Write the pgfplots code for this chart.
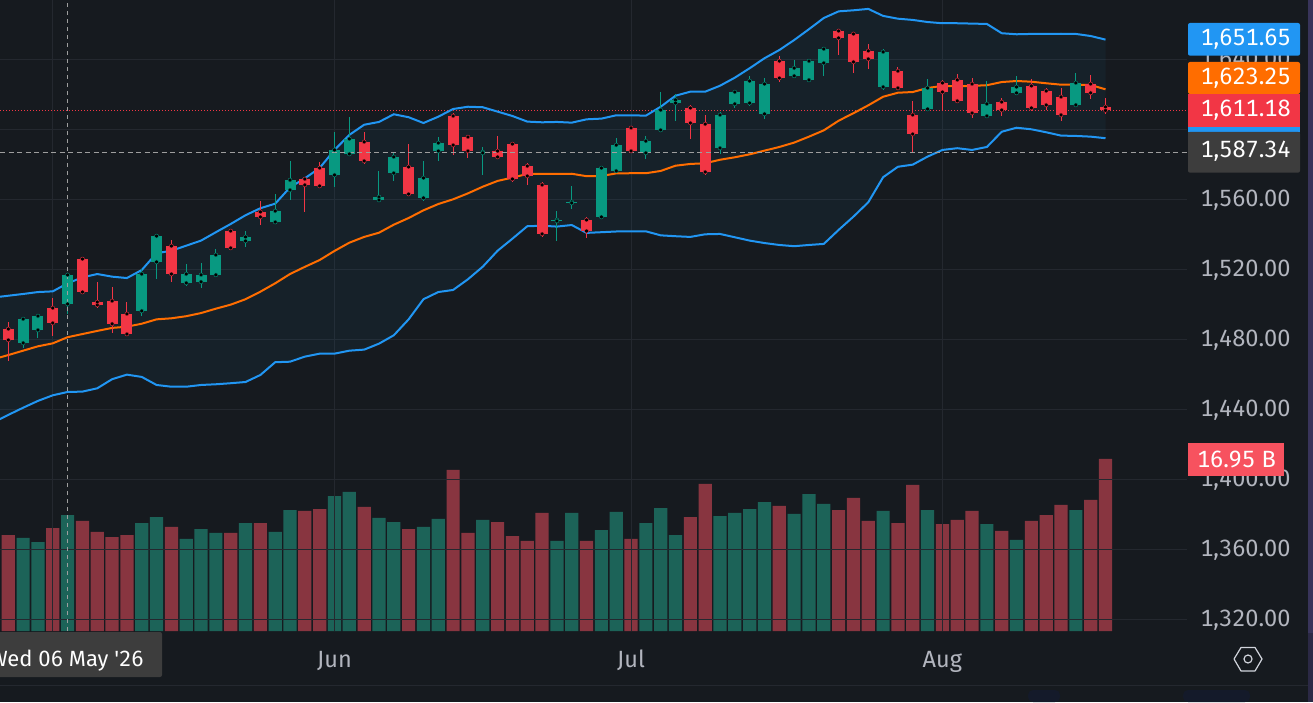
\documentclass[border=0pt]{standalone}
\usepackage{fontspec}
\setmainfont[Numbers=Monospaced]{Fira Sans}
\newfontfamily\plainfont[Numbers=Monospaced]{Fira Sans}
\usepackage{pgfplots}
\usepackage{pgfplotstable}
\pgfplotsset{compat=1.18}
\definecolor{bg}{HTML}{161A1F}
\definecolor{gridc}{HTML}{24282F}
\definecolor{upc}{HTML}{089981}
\definecolor{dnc}{HTML}{F23645}
\definecolor{vup}{HTML}{1C6358}
\definecolor{vdn}{HTML}{883540}
\definecolor{bb}{HTML}{2196F3}
\definecolor{bandc}{HTML}{1686B9}
\definecolor{ma}{HTML}{FF6D00}
\definecolor{lab}{HTML}{B2B5BE}
\definecolor{tagg}{HTML}{3D3D3D}
\definecolor{voltag}{HTML}{F7525F}
\definecolor{stripa}{HTML}{38345A}
\definecolor{stripb}{HTML}{2B2945}
\definecolor{blob}{HTML}{141A2A}
\definecolor{icon}{HTML}{D1D4DC}
\pgfplotstableread{
i o h l c
0 1486.3 1490.3 1468.0 1480.0
3 1498.3 1504.0 1482.3 1489.7
5 1526.3 1527.4 1507.4 1507.4
6 1501.7 1513.2 1498.3 1500.0
7 1502.3 1510.3 1484.0 1489.2
8 1494.9 1501.7 1482.3 1483.4
11 1533.7 1537.2 1513.2 1517.7
15 1542.3 1542.3 1531.4 1532.6
17 1553.2 1559.4 1545.7 1550.3
20 1572.0 1572.0 1553.2 1568.6
21 1578.3 1581.7 1566.9 1568.0
24 1593.2 1598.9 1580.6 1582.3
27 1578.9 1592.0 1563.4 1563.4
30 1608.0 1609.7 1585.7 1591.4
31 1596.0 1596.6 1584.0 1588.0
33 1588.0 1596.6 1583.4 1584.6
34 1592.0 1592.6 1570.3 1572.0
35 1579.4 1581.2 1568.6 1573.7
36 1568.6 1570.3 1538.9 1540.6
39 1548.6 1550.3 1538.3 1542.3
42 1601.2 1601.2 1588.0 1588.0
46 1612.6 1614.3 1594.9 1604.0
47 1603.4 1608.6 1574.3 1576.0
52 1639.4 1642.3 1627.4 1629.7
56 1656.6 1657.7 1642.9 1652.6
57 1654.9 1656.0 1632.6 1638.9
58 1645.2 1649.2 1634.9 1640.6
60 1633.7 1636.0 1622.9 1624.0
61 1608.6 1616.6 1587.4 1597.7
63 1626.9 1628.6 1610.9 1621.7
64 1628.6 1632.0 1616.6 1616.6
65 1626.3 1629.7 1606.9 1609.7
67 1616.0 1618.3 1608.0 1611.4
69 1625.2 1629.2 1610.9 1612.6
70 1622.3 1624.0 1611.4 1614.3
71 1618.9 1624.0 1605.2 1608.6
73 1626.3 1631.4 1617.7 1621.2
74 1613.2 1618.3 1609.2 1611.18
}\candown
\pgfplotstableread{
i o h l c
1 1478.3 1493.2 1475.4 1492.0
2 1485.7 1493.7 1481.2 1493.7
4 1500.6 1517.2 1494.9 1517.2
9 1496.6 1520.6 1493.7 1517.7
10 1524.6 1540.6 1514.9 1539.4
12 1512.6 1523.4 1510.9 1517.7
13 1513.2 1524.0 1509.7 1517.2
14 1517.2 1532.0 1517.2 1528.6
16 1536.6 1542.3 1533.2 1538.9
18 1547.4 1563.4 1547.4 1553.7
19 1565.7 1582.3 1560.0 1571.4
22 1574.3 1598.9 1567.4 1588.6
23 1586.3 1607.4 1586.3 1594.9
25 1560.0 1576.6 1559.4 1561.7
26 1575.4 1586.9 1570.9 1584.6
28 1561.2 1582.3 1559.4 1572.6
29 1588.0 1596.0 1582.3 1592.6
32 1586.9 1590.3 1574.3 1587.4
37 1548.0 1553.7 1536.6 1548.6
38 1558.3 1568.0 1554.9 1558.9
40 1550.3 1578.3 1550.3 1578.3
41 1576.6 1595.4 1575.4 1591.4
43 1586.9 1596.6 1583.4 1593.7
44 1600.0 1621.7 1598.9 1611.4
45 1615.4 1620.6 1605.2 1617.2
48 1589.7 1610.3 1586.3 1608.6
49 1614.9 1621.7 1612.6 1621.7
50 1615.4 1630.9 1613.7 1628.0
51 1609.2 1629.7 1606.3 1626.3
53 1630.9 1640.0 1629.7 1635.4
54 1628.6 1640.0 1628.6 1639.4
55 1638.3 1646.3 1630.9 1646.3
59 1624.6 1646.3 1622.9 1644.6
62 1612.0 1629.2 1610.9 1624.0
66 1608.0 1628.0 1608.0 1614.9
68 1621.2 1630.9 1621.2 1624.6
72 1614.3 1632.6 1613.7 1626.9
}\canup
\pgfplotstableread{
i u m l
-1 1504.3 1469.0 1433.0
0 1505.3 1471.4 1437.2
1 1506.3 1473.9 1441.3
2 1507.4 1476.4 1445.2
3 1507.8 1478.1 1448.4
4 1512.4 1481.6 1450.3
5 1515.8 1483.4 1450.5
6 1517.7 1485.2 1452.4
7 1516.2 1486.9 1457.6
8 1515.4 1487.6 1460.2
9 1520.0 1489.3 1458.9
10 1529.6 1491.8 1454.3
11 1531.0 1492.4 1453.3
12 1533.9 1493.6 1453.3
13 1536.8 1495.4 1454.3
14 1541.6 1497.9 1454.7
15 1546.3 1500.2 1455.3
16 1551.3 1503.3 1456.0
17 1555.3 1507.6 1460.0
18 1557.9 1512.4 1467.3
19 1567.2 1517.7 1467.6
20 1572.4 1521.8 1470.5
21 1578.3 1525.7 1472.2
22 1588.6 1530.9 1472.2
23 1597.2 1535.6 1473.9
24 1603.0 1538.9 1474.5
25 1604.6 1541.3 1477.9
26 1609.0 1545.9 1482.7
27 1607.3 1549.7 1491.8
28 1604.0 1554.1 1503.3
29 1607.6 1557.7 1507.4
30 1612.0 1560.4 1508.6
31 1613.3 1563.8 1514.7
32 1613.0 1567.6 1521.9
33 1610.5 1570.9 1531.0
34 1608.0 1572.8 1537.9
35 1604.8 1574.9 1545.0
36 1604.4 1574.9 1545.3
37 1604.6 1574.9 1544.8
38 1604.2 1575.0 1545.7
39 1606.1 1573.6 1541.2
40 1606.5 1573.7 1541.6
41 1608.4 1575.2 1542.0
42 1608.4 1575.3 1542.1
43 1608.2 1575.3 1542.1
44 1613.3 1576.6 1539.8
45 1619.6 1579.6 1539.3
46 1621.9 1580.6 1538.9
47 1621.9 1581.0 1540.4
48 1625.3 1583.0 1540.6
49 1629.9 1584.4 1538.7
50 1635.3 1586.1 1536.8
51 1641.0 1588.2 1535.4
52 1645.7 1590.3 1534.3
53 1651.4 1592.8 1533.6
54 1657.6 1596.2 1534.3
55 1664.0 1599.8 1534.9
56 1667.8 1605.3 1542.9
57 1668.4 1609.6 1550.5
58 1669.2 1614.1 1558.7
59 1665.2 1619.0 1573.0
60 1663.6 1621.3 1579.0
61 1662.9 1621.7 1580.2
62 1661.7 1624.0 1584.8
63 1661.0 1625.2 1588.6
64 1661.0 1625.0 1589.6
65 1660.8 1625.2 1588.6
66 1660.6 1625.6 1590.3
67 1655.3 1627.4 1599.0
68 1654.7 1628.0 1601.3
69 1654.9 1627.6 1600.4
70 1654.9 1626.7 1598.7
71 1655.0 1625.9 1596.8
72 1654.9 1625.9 1596.6
73 1653.7 1625.7 1596.2
74 1651.65 1623.25 1595.3
}\bands
\pgfplotstableread{
i y
-1 1504.3
0 1505.3
1 1506.3
2 1507.4
3 1507.8
4 1512.4
5 1515.8
6 1517.7
7 1516.2
8 1515.4
9 1520.0
10 1529.6
11 1531.0
12 1533.9
13 1536.8
14 1541.6
15 1546.3
16 1551.3
17 1555.3
18 1557.9
19 1567.2
20 1572.4
21 1578.3
22 1588.6
23 1597.2
24 1603.0
25 1604.6
26 1609.0
27 1607.3
28 1604.0
29 1607.6
30 1612.0
31 1613.3
32 1613.0
33 1610.5
34 1608.0
35 1604.8
36 1604.4
37 1604.6
38 1604.2
39 1606.1
40 1606.5
41 1608.4
42 1608.4
43 1608.2
44 1613.3
45 1619.6
46 1621.9
47 1621.9
48 1625.3
49 1629.9
50 1635.3
51 1641.0
52 1645.7
53 1651.4
54 1657.6
55 1664.0
56 1667.8
57 1668.4
58 1669.2
59 1665.2
60 1663.6
61 1662.9
62 1661.7
63 1661.0
64 1661.0
65 1660.8
66 1660.6
67 1655.3
68 1654.7
69 1654.9
70 1654.9
71 1655.0
72 1654.9
73 1653.7
74 1651.65
74 1595.3
73 1596.2
72 1596.6
71 1596.8
70 1598.7
69 1600.4
68 1601.3
67 1599.0
66 1590.3
65 1588.6
64 1589.6
63 1588.6
62 1584.8
61 1580.2
60 1579.0
59 1573.0
58 1558.7
57 1550.5
56 1542.9
55 1534.9
54 1534.3
53 1533.6
52 1534.3
51 1535.4
50 1536.8
49 1538.7
48 1540.6
47 1540.4
46 1538.9
45 1539.3
44 1539.8
43 1542.1
42 1542.1
41 1542.0
40 1541.6
39 1541.2
38 1545.7
37 1544.8
36 1545.3
35 1545.0
34 1537.9
33 1531.0
32 1521.9
31 1514.7
30 1508.6
29 1507.4
28 1503.3
27 1491.8
26 1482.7
25 1477.9
24 1474.5
23 1473.9
22 1472.2
21 1472.2
20 1470.5
19 1467.6
18 1467.3
17 1460.0
16 1456.0
15 1455.3
14 1454.7
13 1454.3
12 1453.3
11 1453.3
10 1454.3
9 1458.9
8 1460.2
7 1457.6
6 1452.4
5 1450.5
4 1450.3
3 1448.4
2 1445.2
1 1441.3
0 1437.2
-1 1433.0
}\bandarea
\pgfplotstableread{
i v
1 9.17
2 8.77
4 11.43
9 10.64
10 11.23
12 9.07
13 10.05
14 9.66
16 10.64
18 9.76
19 11.92
22 13.30
23 13.70
25 11.14
26 10.74
28 10.25
29 11.04
32 10.94
37 8.87
38 11.63
40 9.95
41 11.73
43 10.64
44 12.12
45 9.46
48 11.33
49 11.63
50 12.02
51 12.71
53 11.53
54 13.50
55 12.52
59 11.83
62 11.92
66 10.54
68 8.97
72 11.92
}\volup
\pgfplotstableread{
i v
0 9.46
3 10.15
5 10.84
6 9.76
7 9.26
8 9.46
11 10.25
15 9.66
17 10.64
20 11.83
21 12.02
24 12.22
27 10.05
30 15.87
31 9.66
33 10.74
34 9.36
35 8.87
36 11.63
39 8.87
42 9.07
46 11.23
47 14.49
52 12.32
56 11.92
57 13.11
58 10.84
60 10.64
61 14.39
63 10.54
64 10.94
65 11.83
67 9.86
69 10.84
70 11.43
71 12.42
73 12.91
74 16.95
}\voldn
\pgfplotsset{pane/.style={
  scale only axis, width=1187pt, height=631pt, at={(0pt,0pt)}, anchor=south west,
  xmin=-0.56, xmax=79.50, axis line style={draw=none}, major tick length=0pt}}
\newcommand{\candles}[2]{%
  \addplot[only marks, mark=none, draw=#2, error bars/.cd, y dir=both, y explicit, error mark=none,
    error bar style={solid, line width=1pt, draw=#2}]
    table[x=i, y=c, y error plus expr=\thisrow{h}-\thisrow{c}, y error minus expr=\thisrow{c}-\thisrow{l}] {#1};
  \addplot[only marks, mark=none, draw=#2, error bars/.cd, y dir=plus, y explicit, error mark=none,
    error bar style={solid, line width=11pt, draw=#2}]
    table[x=i, y=o, y error plus expr=\thisrow{c}-\thisrow{o}] {#1};
}
\begin{document}
\begin{tikzpicture}
\path[use as bounding box] (0pt,-71pt) rectangle (1313pt,631pt);
\fill[bg] (0pt,-71pt) rectangle (1313pt,631pt);
% volume pane
\begin{axis}[pane, ymin=0, ymax=62.18, xtick=\empty, ytick=\empty]
\addplot[ybar, bar width=13.2pt, bar shift=0pt, fill=vup, draw=none] table[x=i,y=v] {\volup};
\addplot[ybar, bar width=13.2pt, bar shift=0pt, fill=vdn, draw=none] table[x=i,y=v] {\voldn};
\end{axis}
% price pane
\begin{axis}[pane, ymin=1313.71, ymax=1674.29,
  ytick={1320,1360,1400,1440,1480,1520,1560,1600,1640},
  xtick={3,22,42,63}, xticklabels={,Jun,Jul,Aug},
  grid=major, grid style={line width=1pt, gridc},
  yticklabel pos=right, scaled y ticks=false,
  y tick label style={anchor=east, xshift=107pt, font=\fontsize{23.5}{24}\selectfont, text=lab,
    /pgf/number format/.cd, fixed, fixed zerofill, precision=2, 1000 sep={,}, assume math mode=true},
  x tick label style={anchor=base, yshift=-36pt, font=\fontsize{23.5}{24}\selectfont, text=lab}]
\addplot[fill=bandc, fill opacity=0.065, draw=none] table[x=i,y=y] {\bandarea};
\draw[dnc, line width=1pt, dash pattern=on 1pt off 2pt] (axis cs:-0.56,1611.18) -- (axis cs:79.5,1611.18);
\addplot[bb, line width=2pt] table[x=i,y=u] {\bands};
\addplot[bb, line width=2pt] table[x=i,y=l] {\bands};
\addplot[ma, line width=2pt] table[x=i,y=m] {\bands};
\candles{\canup}{upc}
\candles{\candown}{dnc}
\draw[white!62!black, line width=1pt, dash pattern=on 5pt off 3.5pt] (axis cs:-0.56,1587.34) -- (axis cs:79.5,1587.34);
\draw[white!62!black, line width=1pt, dash pattern=on 4pt off 4pt] (axis cs:4,1313.71) -- (axis cs:4,1674.29);
\end{axis}
% price tags
\fill[bb, rounded corners=2pt] (1188pt,575.3pt) rectangle (1300pt,608pt);
\fill[ma, rounded corners=2pt] (1188pt,537pt) rectangle (1300pt,569pt);
\fill[bb] (1188pt,494pt) rectangle (1300pt,510pt);
\fill[dnc] (1188pt,504.3pt) rectangle (1300pt,537pt);
\fill[tagg, rounded corners=2pt] (1188pt,458.3pt) rectangle (1300pt,499pt);
\fill[tagg] (1188pt,480pt) rectangle (1300pt,499pt);
\fill[voltag] (1188pt,155pt) rectangle (1284pt,188pt);
\fill[tagg, rounded corners=2pt] (-5pt,-46pt) rectangle (162pt,-1pt);
\begin{scope}[every node/.style={inner sep=0pt, text=white, font=\fontsize{23.5}{24}\selectfont}]
\node[anchor=east] at (1291pt,592pt) {1,651.65};
\node[anchor=east] at (1291pt,553pt) {1,623.25};
\node[anchor=east] at (1291pt,520.5pt) {1,611.18};
\node[anchor=east] at (1291pt,480pt) {1,587.34};
\node[anchor=east] at (1276pt,171.5pt) {16.95 B};
\node[anchor=base east, font=\fontsize{22}{22}\selectfont] at (144pt,-35pt) {\plainfont Wed 06 May '26};
\end{scope}
% frame details
\draw[gridc, line width=1pt] (0pt,-54pt) -- (1308pt,-54pt);
\fill[stripa] (1308pt,-2pt) rectangle (1313pt,631pt);
\fill[stripb] (1308pt,-71pt) rectangle (1313pt,-2pt);
\fill[blob, rounded corners=5pt] (1028pt,-71pt) rectangle (1060pt,-59pt);
\fill[blob, rounded corners=5pt] (1183pt,-71pt) rectangle (1250pt,-59pt);
% settings icon
\draw[icon, line width=1.2pt, line join=round] (1234pt,-28pt) -- (1241pt,-16.5pt) -- (1255pt,-16.5pt) -- (1262pt,-28pt) -- (1255pt,-40pt) -- (1241pt,-40pt) -- cycle;
\draw[icon, line width=1.2pt] (1248pt,-28pt) circle (4pt);
\end{tikzpicture}
\end{document}
